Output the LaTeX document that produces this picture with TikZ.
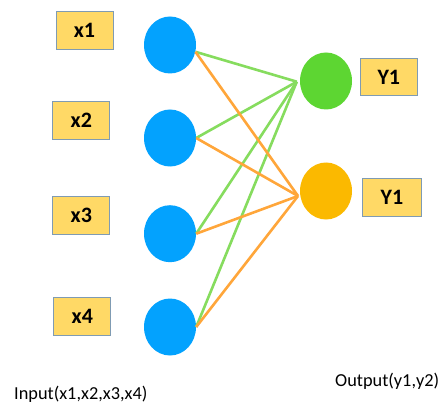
\documentclass[tikz,border=0pt]{standalone}
\usepackage{fontspec}
\setmainfont{Carlito}
\usetikzlibrary{shapes.geometric}
\definecolor{boxfill}{HTML}{FFD966}
\definecolor{boxline}{HTML}{7F9BB3}
\definecolor{inblue}{HTML}{03A2FE}
\definecolor{outgreen}{HTML}{5DD632}
\definecolor{outorange}{HTML}{FBB900}
\definecolor{wgreen}{HTML}{86DC5E}
\definecolor{worange}{HTML}{FFA63A}
\tikzset{
  label box/.style={draw=boxline, fill=boxfill, line width=0.9pt,
    minimum width=57pt, minimum height=37.5pt, inner sep=0pt,
    font=\fontsize{22}{25}\selectfont\bfseries},
  neuron/.style={ellipse, minimum width=52pt, minimum height=57pt,
    inner sep=0pt, draw=none},
  gw/.style={wgreen, line width=2.6pt},
  ow/.style={worange, line width=2.6pt},
  caption/.style={font=\fontsize{18.3}{21}\selectfont, inner sep=0pt, anchor=base west}
}
\begin{document}
\begin{tikzpicture}[x=1pt, y=-1pt]
\useasboundingbox (0,0) rectangle (443,403);
\fill[white] (0,0) rectangle (443,403);

% input labels
\node[label box] (b1) at (84.5,30.5) {x1};
\node[label box] (b2) at (81.3,120.3) {x2};
\node[label box] (b3) at (81.3,215.3) {x3};
\node[label box] (b4) at (82.3,316.2) {x4};

% input layer
\node[neuron, fill=inblue] (i1) at (170,45) {};
\node[neuron, fill=inblue] (i2) at (170,138) {};
\node[neuron, fill=inblue] (i3) at (170,233.7) {};
\node[neuron, fill=inblue] (i4) at (170,327) {};

% output layer
\node[neuron, fill=outgreen] (g) at (326,81) {};
\node[neuron, fill=outorange] (o) at (326,191) {};

% output labels
\node[label box] (y1) at (388.8,77.2) {Y1};
\node[label box, minimum width=59.7pt] (y2) at (392,197.2) {Y1};

% connection points
\coordinate (s1) at (i1.-15);
\coordinate (s2) at (i2.east);
\coordinate (s3) at (i3.east);
\coordinate (s4) at (i4.east);
\coordinate (tg) at (296.8,81.7);
\coordinate (to) at (298,196);

% weights
\foreach \s in {s1,s2,s3,s4} \draw[gw] (\s) -- (tg);
\foreach \s in {s1,s2,s3,s4} \draw[ow] (\s) -- (to);

% captions
\node[caption] (cin) at (14,399.3) {Input(x1,x2,x3,x4)};
\node[caption] (cout) at (335,386) {Output(y1,y2)};
\end{tikzpicture}
\end{document}
